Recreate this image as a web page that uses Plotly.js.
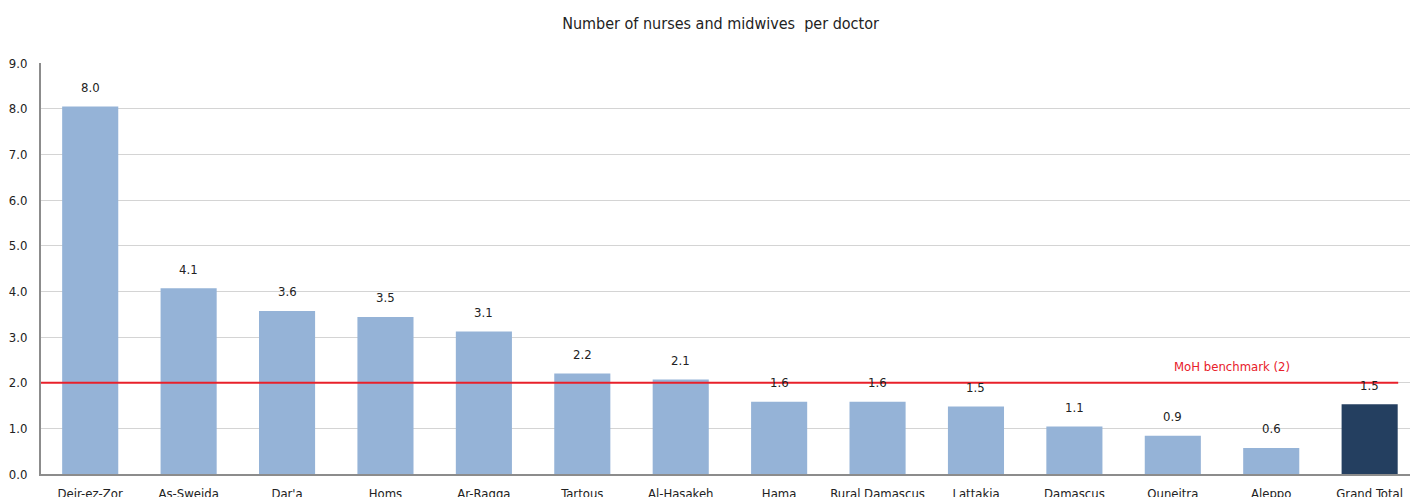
<!DOCTYPE html>
<html>
<head>
<meta charset="utf-8">
<script src="https://cdn.plot.ly/plotly-3.0.1.min.js"></script>
<style>
  html, body { margin: 0; padding: 0; background: #fff; }
  #chart { width: 1410px; height: 497px; }
</style>
</head>
<body>
<div id="chart"></div>
<script>
const categories = ["Deir-ez-Zor", "As-Sweida", "Dar'a", "Homs", "Ar-Raqqa", "Tartous", "Al-Hasakeh",
  "Hama", "Rural Damascus", "Lattakia", "Damascus", "Quneitra", "Aleppo", "Grand Total"];
const values = [8.05, 4.07, 3.57, 3.44, 3.12, 2.2, 2.07, 1.58, 1.58, 1.48, 1.04, 0.84, 0.57, 1.53];
const valueLabels = ["8.0", "4.1", "3.6", "3.5", "3.1", "2.2", "2.1", "1.6", "1.6", "1.5", "1.1", "0.9", "0.6", "1.5"];
const benchmark = 2;
const benchmarkLabel = "MoH benchmark (2)";
const yTicks = [0, 1, 2, 3, 4, 5, 6, 7, 8, 9];
const yTickLabels = ["0.0", "1.0", "2.0", "3.0", "4.0", "5.0", "6.0", "7.0", "8.0", "9.0"];
const titleText = "Number of nurses and midwives&nbsp;&nbsp;per doctor";

const FONT = "'DejaVu Sans Condensed', 'Liberation Sans Narrow', 'DejaVu Sans', sans-serif";
const colors = categories.map(c => c === "Grand Total" ? "#243f60" : "#95b3d7");

const trace = {
  type: "bar",
  x: categories,
  y: values,
  marker: { color: colors, line: { width: 0 } },
  width: 0.57,
  hoverinfo: "x+y"
};

const labelAnnotations = categories.map((c, i) => ({
  xref: "x", yref: "y",
  x: c, y: values[i],
  yshift: 19,
  yanchor: "middle",
  text: valueLabels[i],
  showarrow: false,
  font: { family: FONT, size: 13, color: "#222" }
}));

const layout = {
  width: 1410,
  height: 497,
  margin: { l: 41, r: 0, t: 63, b: 23, pad: 0 },
  paper_bgcolor: "#fff",
  plot_bgcolor: "#fff",
  showlegend: false,
  font: { family: FONT, size: 13, color: "#222" },
  title: {
    text: titleText,
    font: { family: FONT, size: 16, color: "#222" },
    x: 0.511, xref: "container", xanchor: "center",
    y: 0.953, yref: "container", yanchor: "middle"
  },
  xaxis: {
    type: "category",
    range: [-0.5, 13.41],
    showgrid: false,
    showline: true,
    linecolor: "#8c8c8c",
    linewidth: 2,
    ticks: "",
    ticklabelstandoff: 6,
    tickfont: { family: FONT, size: 13, color: "#222" },
    fixedrange: true
  },
  yaxis: {
    range: [0, 9],
    tickvals: yTicks,
    ticktext: yTickLabels,
    showgrid: true,
    gridcolor: "#d4d4d4",
    gridwidth: 1,
    zeroline: false,
    showline: true,
    linecolor: "#8c8c8c",
    linewidth: 2,
    ticks: "",
    ticklabelstandoff: 9,
    tickfont: { family: FONT, size: 13, color: "#222" },
    fixedrange: true
  },
  shapes: [{
    type: "line",
    xref: "x", yref: "y",
    x0: -0.5, x1: 13.29,
    y0: benchmark, y1: benchmark,
    line: { color: "#e8202a", width: 2 },
    layer: "above"
  }],
  annotations: labelAnnotations.concat([{
    xref: "x", yref: "y",
    x: 11.6, y: benchmark,
    yshift: 16,
    text: benchmarkLabel,
    showarrow: false,
    font: { family: FONT, size: 13, color: "#e8202a" }
  }])
};

Plotly.newPlot("chart", [trace], layout, { displayModeBar: false, staticPlot: true });
</script>
</body>
</html>
